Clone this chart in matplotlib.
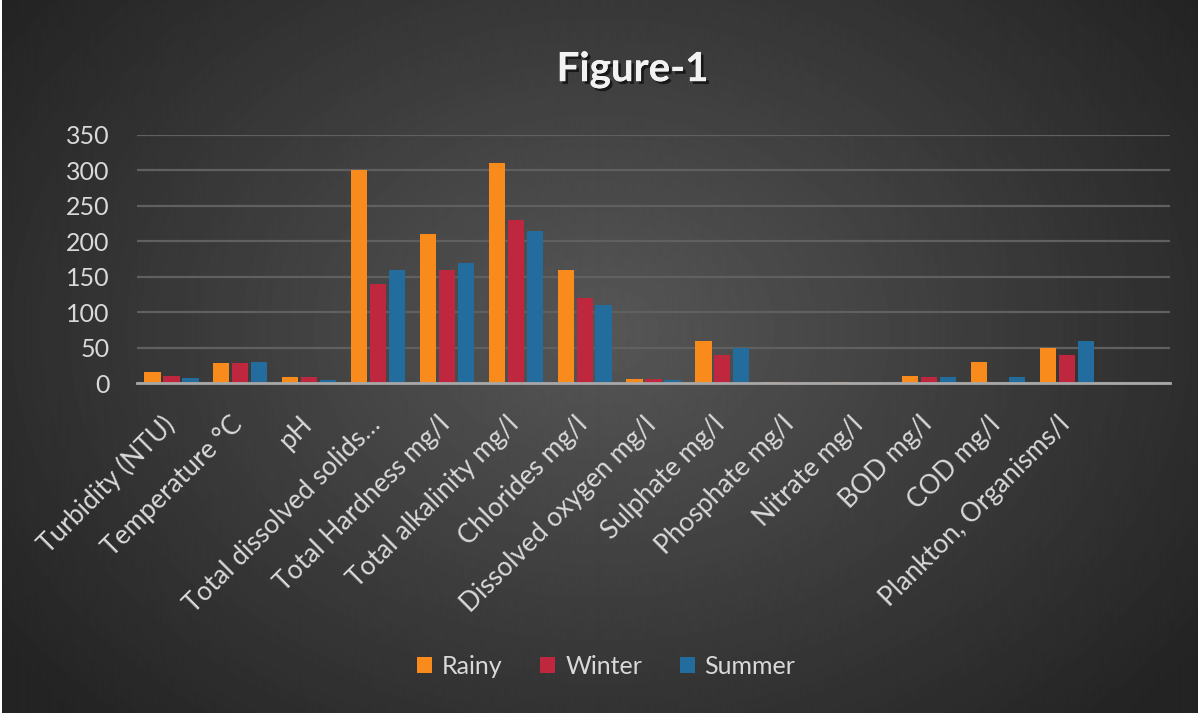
import numpy as np
import matplotlib.pyplot as plt
import matplotlib.patheffects as pe
import matplotlib.transforms as mtransforms

plt.rcParams["font.family"] = ["Lato", "DejaVu Sans"]

categories = [
    "Turbidity (NTU)",
    "Temperature °C",
    "pH",
    "Total dissolved solids…",
    "Total Hardness mg/l",
    "Total alkalinity mg/l",
    "Chlorides mg/l",
    "Dissolved oxygen mg/l",
    "Sulphate mg/l",
    "Phosphate mg/l",
    "Nitrate mg/l",
    "BOD mg/l",
    "COD mg/l",
    "Plankton, Organisms/l",
    "",
]
rainy = [15, 28, 8, 300, 210, 310, 160, 6, 60, 1, 1, 10, 30, 50, 0]
winter = [10, 28, 8, 140, 160, 230, 120, 5, 40, 1, 0.5, 9, 0, 40, 0]
summer = [7, 30, 4, 160, 170, 215, 110, 4, 50, 0.5, 0.3, 9, 9, 60, 0]
series_names = ["Rainy", "Winter", "Summer"]
colors = ["#F98B1C", "#BE273D", "#236C9E"]

fig = plt.figure(figsize=(11.98, 7.13), dpi=100, facecolor="white")

# dark radial gradient background
bg = fig.add_axes([0.002, 0, 0.998, 1])
yy, xx = np.mgrid[0:713, 0:1198]
r = np.sqrt(((xx - 600) / 700.0) ** 2 + ((yy - 330) / 520.0) ** 2)
shade = np.clip(0.34 - 0.19 * r, 0.14, 0.34)
bg.imshow(shade, cmap="gray", vmin=0, vmax=1, aspect="auto", extent=[0, 1, 0, 1])
bg.set_axis_off()

ax = fig.add_axes([0.1144, 0.4628, 0.8622, 0.3479])
ax.patch.set_alpha(0)

x = np.arange(len(categories))
w = 0.235
step = 0.275
for i, (vals, name, c) in enumerate(zip([rainy, winter, summer], series_names, colors)):
    ax.bar(x + (i - 1) * step, vals, width=w, color=c, label=name, zorder=3)

ax.set_xlim(-0.5, len(categories) - 0.5)
ax.set_ylim(0, 350)
ax.set_yticks(range(0, 351, 50))
ax.yaxis.grid(True, color="#606060", linewidth=1.6, zorder=0)
for s in ["top", "right", "left"]:
    ax.spines[s].set_visible(False)
ax.spines["bottom"].set_color("#a8a8a8")
ax.spines["bottom"].set_linewidth(2)
ax.spines["bottom"].set_zorder(4)
ax.tick_params(axis="both", length=0, colors="#D9D9D9")
ax.tick_params(axis="y", pad=20, labelsize=18)

ax.set_xticks(x)
ax.set_xticklabels(categories, rotation=45, ha="right", va="top",
                   rotation_mode="anchor", fontsize=19, color="#D9D9D9")
shift = mtransforms.ScaledTranslation(-0.1, -0.24, fig.dpi_scale_trans)
for lbl in ax.get_xticklabels():
    lbl.set_transform(lbl.get_transform() + shift)

fig.text(0.528, 0.902, "Figure-1", ha="center", va="center", fontsize=29,
         fontweight="bold", color="#F2F2F2",
         path_effects=[pe.withSimplePatchShadow(offset=(2, -2), shadow_rgbFace="black", alpha=0.6), pe.Normal()])

fig.legend(loc="center", bbox_to_anchor=(0.506, 0.065), ncol=3, frameon=False,
           fontsize=18, labelcolor="#D9D9D9", handlelength=0.6, handleheight=0.6,
           handletextpad=0.4, columnspacing=1.5)

fig.savefig("out.png", dpi=100, facecolor="white")
